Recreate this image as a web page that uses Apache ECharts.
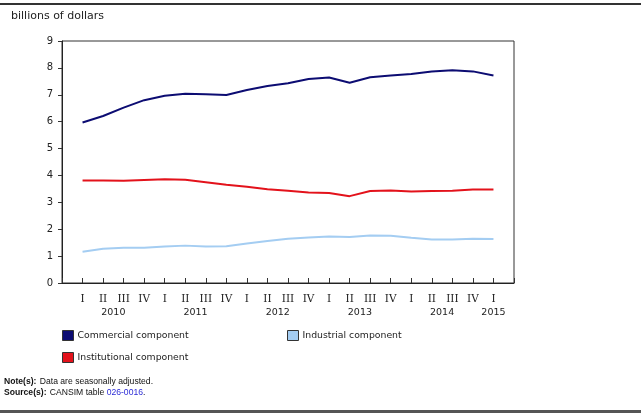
<!DOCTYPE html>
<html>
<head>
<meta charset="utf-8">
<script src="https://cdn.jsdelivr.net/npm/echarts@6/dist/echarts.min.js"></script>
<style>
html,body{margin:0;padding:0;background:#fff;}
#chart{width:641px;height:416px;}
</style>
</head>
<body>
<div id="chart"></div>
<script>
var quarterLabels = ['I','II','III','IV','I','II','III','IV','I','II','III','IV','I','II','III','IV','I','II','III','IV','I'];
var yearLabels = ['2010','2011','2012','2013','2014','2015'];
var yearPositions = [1.5, 5.5, 9.5, 13.5, 17.5, 20];
var commercial = [5.97,6.21,6.52,6.80,6.96,7.04,7.02,6.99,7.18,7.33,7.43,7.59,7.64,7.45,7.65,7.72,7.77,7.87,7.91,7.87,7.72];
var institutional = [3.81,3.81,3.80,3.83,3.86,3.84,3.75,3.65,3.58,3.49,3.43,3.37,3.35,3.23,3.42,3.44,3.40,3.42,3.43,3.48,3.48];
var industrial = [1.16,1.27,1.31,1.31,1.36,1.39,1.36,1.37,1.47,1.56,1.65,1.69,1.73,1.71,1.77,1.76,1.68,1.62,1.62,1.65,1.64];
var seriesNames = ['Commercial component','Industrial component','Institutional component'];
var seriesColors = ['#0c0c72','#a4cdf2','#e3121b'];

function pairs(arr){ return arr.map(function(v,i){ return [i,v]; }); }

var chart = echarts.init(document.getElementById('chart'), null, {renderer:'canvas'});
var legendBase = {
  orient:'horizontal', icon:'rect', itemWidth:11, itemHeight:10, itemGap:4,
  textStyle:{fontFamily:'DejaVu Sans', fontSize:9.3, color:'#222', padding:[0,0,0,-1]},
  itemStyle:{borderColor:'#333', borderWidth:1},
  padding:0, selectedMode:false
};
chart.setOption({
  animation:false,
  backgroundColor:'#fff',
  title:{text:'billions of dollars', left:11, top:11, padding:0,
    textStyle:{fontFamily:'DejaVu Sans', fontSize:11, fontWeight:'normal', color:'#222'}},
  legend:[
    Object.assign({}, legendBase, {data:[seriesNames[0]], left:62, top:330}),
    Object.assign({}, legendBase, {data:[seriesNames[1]], left:287, top:330}),
    Object.assign({}, legendBase, {data:[seriesNames[2]], left:62, top:352})
  ],
  grid:{left:62, right:127, top:41, bottom:133, show:true, borderColor:'#333', borderWidth:1, backgroundColor:'transparent'},
  xAxis:[{
    type:'value', min:-1, max:21, interval:1,
    axisLine:{show:true, onZero:false, lineStyle:{color:'#222', width:1}},
    axisTick:{show:true, inside:true, length:5, lineStyle:{color:'#333', width:1}},
    splitLine:{show:false},
    axisLabel:{show:true, margin:11, fontFamily:'DejaVu Serif', fontSize:10.5, color:'#222',
      formatter:function(v){ var i=Math.round(v); return (Math.abs(v-i)<1e-6 && i>=0 && i<quarterLabels.length)? quarterLabels[i] : ''; }}
  },{
    type:'value', min:-1, max:21, interval:0.5, position:'bottom',
    axisLine:{show:false, onZero:false}, axisTick:{show:false}, splitLine:{show:false},
    axisLabel:{show:true, margin:25, fontFamily:'DejaVu Sans', fontSize:9.5, color:'#222',
      formatter:function(v){ for(var k=0;k<yearPositions.length;k++){ if(Math.abs(v-yearPositions[k])<1e-6) return yearLabels[k]; } return ''; }}
  }],
  yAxis:{
    type:'value', min:0, max:9, interval:1,
    axisLine:{show:true, onZero:false, lineStyle:{color:'#222', width:1}},
    axisTick:{show:true, inside:false, length:4, lineStyle:{color:'#333'}},
    splitLine:{show:false},
    axisLabel:{margin:9, fontFamily:'DejaVu Sans', fontSize:10, color:'#222'}
  },
  series:[
    {name:seriesNames[0], type:'line', data:pairs(commercial), showSymbol:false, symbol:'none', color:seriesColors[0], lineStyle:{width:2, color:seriesColors[0]}},
    {name:seriesNames[1], type:'line', data:pairs(industrial), showSymbol:false, symbol:'none', color:seriesColors[1], lineStyle:{width:2, color:seriesColors[1]}},
    {name:seriesNames[2], type:'line', data:pairs(institutional), showSymbol:false, symbol:'none', color:seriesColors[2], lineStyle:{width:2, color:seriesColors[2]}}
  ],
  graphic:[
    {type:'rect', shape:{x:0, y:3, width:641, height:2}, style:{fill:'#333'}},
    {type:'rect', shape:{x:0, y:410, width:641, height:3}, style:{fill:'#555'}},
    {type:'text', left:4, top:376, style:{rich:{b:{fontWeight:'bold', fontFamily:'Liberation Sans', fontSize:8.6, fill:'#111'}, n:{fontFamily:'Liberation Sans', fontSize:8.6, fill:'#111'}}, text:'{b|Note(s):} {n|Data are seasonally adjusted.}'}},
    {type:'text', left:4, top:387, style:{rich:{b:{fontWeight:'bold', fontFamily:'Liberation Sans', fontSize:8.6, fill:'#111'}, n:{fontFamily:'Liberation Sans', fontSize:8.6, fill:'#111'}, l:{fontFamily:'Liberation Sans', fontSize:8.6, fill:'#2a2ad6'}}, text:'{b|Source(s):} {n|CANSIM table }{l|026-0016}{n|.}'}}
  ]
});
</script>
</body>
</html>
